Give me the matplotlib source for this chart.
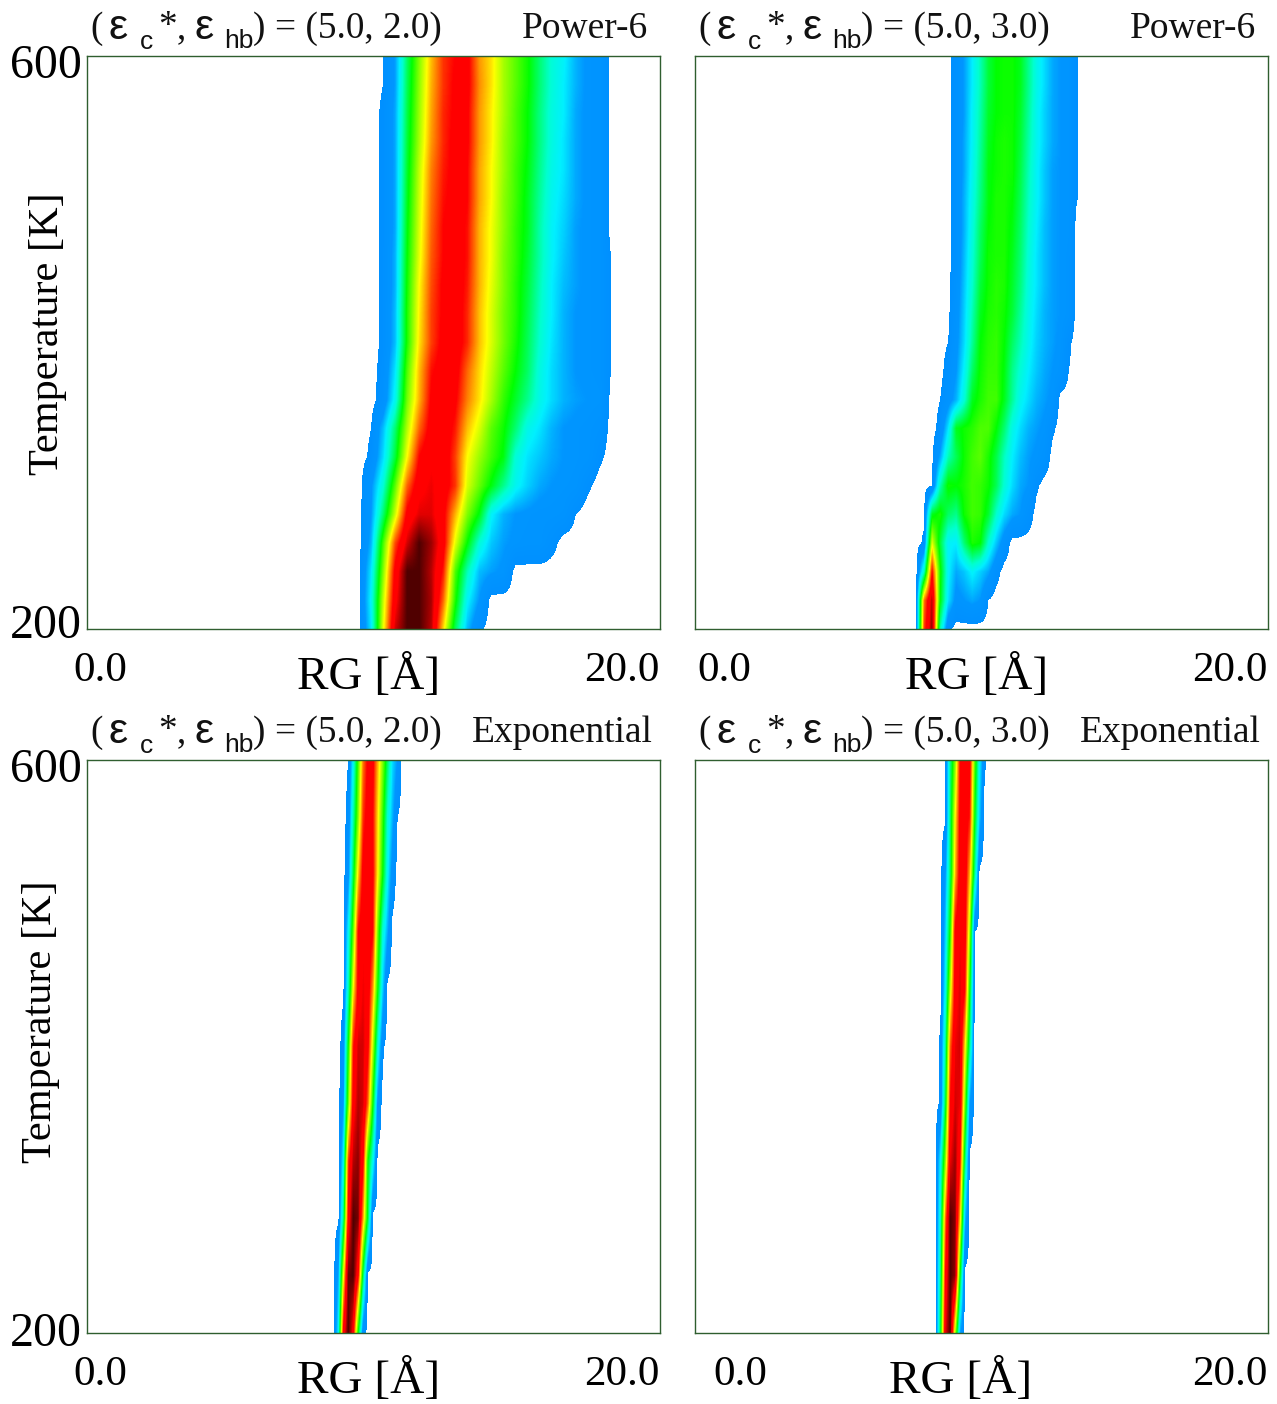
import numpy as np
import matplotlib
matplotlib.use("Agg")
import matplotlib.pyplot as plt
from matplotlib.colors import LinearSegmentedColormap, Normalize
from matplotlib.transforms import ScaledTranslation

W, H = 1277, 1404
SERIF = "Liberation Serif"
SANS = "Liberation Sans"

temps_fine = list(range(600, 199, -20))
temps_coarse = list(range(600, 199, -40))
rg_p6_a = [9.5 + 0.42 * i for i in range(22)]
rg_p6_b = [7.7 + 0.28 * i for i in range(22)]
rg_exp_a = [8.6 + 0.17 * i for i in range(15)]
rg_exp_b = [8.4 + 0.17 * i for i in range(12)]

power6_e2 = [
 [0,0,.02,.11,.33,.5,.65,.76,.8,.82,.68,.62,.53,.47,.41,.32,.24,.2,.13,.09,.08,0],
 [0,0,.02,.11,.34,.51,.66,.76,.81,.82,.69,.62,.53,.47,.41,.32,.24,.19,.13,.09,.08,0],
 [0,0,.03,.12,.35,.52,.67,.77,.81,.81,.68,.61,.53,.46,.4,.31,.23,.19,.12,.09,.08,0],
 [0,0,.03,.12,.36,.53,.68,.77,.82,.81,.68,.61,.52,.46,.4,.31,.23,.18,.12,.09,.08,0],
 [0,0,.03,.12,.37,.55,.7,.78,.82,.8,.67,.6,.52,.45,.39,.3,.22,.18,.12,.09,.08,0],
 [0,0,.03,.12,.38,.56,.71,.79,.82,.8,.67,.6,.51,.45,.38,.29,.21,.17,.12,.09,.08,0],
 [0,0,.03,.12,.39,.57,.72,.8,.83,.79,.66,.59,.51,.44,.38,.28,.2,.16,.11,.09,.08,0],
 [0,0,.03,.13,.4,.58,.73,.8,.83,.79,.66,.59,.5,.44,.37,.28,.2,.15,.11,.09,.08,.015],
 [0,0,.03,.13,.41,.6,.74,.81,.84,.78,.66,.58,.5,.43,.36,.27,.19,.14,.11,.09,.08,.015],
 [0,0,.03,.14,.42,.61,.75,.81,.84,.77,.65,.57,.49,.43,.35,.26,.19,.13,.1,.09,.08,.015],
 [0,0,.03,.14,.42,.62,.75,.82,.84,.77,.65,.57,.49,.42,.34,.25,.18,.13,.1,.09,.08,.015],
 [0,0,.04,.18,.46,.65,.79,.83,.83,.72,.63,.55,.47,.4,.33,.23,.17,.13,.1,.09,.08,.015],
 [0,0,.05,.21,.49,.66,.81,.84,.81,.7,.62,.53,.44,.37,.3,.22,.17,.13,.11,.1,.09,0],
 [0,.02,.14,.32,.54,.72,.83,.85,.78,.65,.57,.47,.41,.32,.22,.18,.13,.1,.09,.08,.06,0],
 [0,.03,.17,.36,.6,.8,.86,.85,.75,.6,.52,.45,.39,.24,.18,.15,.12,.1,.09,.08,.03,0],
 [0,.09,.24,.47,.72,.85,.88,.84,.76,.57,.48,.39,.3,.21,.16,.12,.1,.09,.08,.03,0,0],
 [0,.1,.32,.56,.82,.89,.89,.82,.66,.5,.39,.2,.13,.1,.09,.08,.08,.07,.02,0,0,0],
 [0,.13,.45,.74,.9,1,.94,.83,.58,.4,.24,.15,.11,.09,.08,.08,.04,0,0,0,0,0],
 [.01,.18,.5,.82,1,1,.92,.78,.46,.27,.14,.11,.09,0,0,0,0,0,0,0,0,0],
 [.01,.2,.55,.85,1,1,.93,.72,.42,.2,.1,0,0,0,0,0,0,0,0,0,0,0],
 [0,.18,.58,.9,1,1,.92,.63,.34,.14,.03,0,0,0,0,0,0,0,0,0,0,0],
]

power6_e3 = [
 [0,0,0,0,0,.05,.11,.19,.27,.36,.4,.41,.41,.38,.3,.22,.17,.12,.1,.09,.022,0],
 [0,0,0,0,0,.05,.11,.19,.27,.36,.4,.41,.41,.38,.3,.22,.17,.12,.1,.09,.022,0],
 [0,0,0,0,0,.05,.11,.2,.28,.37,.4,.41,.41,.37,.29,.21,.16,.12,.1,.09,.022,0],
 [0,0,0,0,0,.05,.12,.2,.29,.38,.41,.42,.41,.36,.28,.21,.16,.12,.1,.09,.022,0],
 [0,0,0,0,0,.05,.12,.21,.3,.39,.41,.42,.41,.35,.27,.2,.15,.11,.1,.09,.022,0],
 [0,0,0,0,0,.05,.13,.22,.31,.39,.42,.42,.4,.34,.26,.2,.15,.11,.1,.09,.022,0],
 [0,0,0,0,0,.05,.13,.23,.33,.4,.42,.42,.39,.33,.25,.19,.14,.11,.1,.09,0,0],
 [0,0,0,0,0,.05,.14,.24,.34,.41,.42,.42,.38,.32,.24,.18,.14,.11,.1,.08,0,0],
 [0,0,0,0,.01,.06,.15,.25,.36,.41,.43,.42,.37,.31,.23,.18,.14,.11,.1,.08,0,0],
 [0,0,0,0,.01,.07,.16,.27,.38,.42,.43,.41,.36,.29,.22,.17,.13,.11,.1,.08,0,0],
 [0,0,0,0,.02,.08,.17,.29,.4,.43,.44,.4,.33,.27,.21,.16,.13,.11,.09,.03,0,0],
 [0,0,0,0,.05,.1,.2,.33,.41,.44,.44,.39,.3,.24,.19,.15,.12,.1,.08,.02,0,0],
 [0,0,0,.02,.07,.13,.24,.38,.42,.45,.45,.38,.29,.21,.17,.13,.11,.09,0,0,0,0],
 [0,0,0,.04,.18,.38,.41,.43,.46,.46,.4,.32,.22,.17,.13,.11,.09,.03,0,0,0,0],
 [0,0,.01,.12,.27,.34,.41,.45,.47,.42,.35,.26,.19,.14,.11,.09,.06,0,0,0,0,0],
 [0,0,.02,.27,.41,.4,.42,.45,.44,.41,.34,.24,.17,.12,.1,.03,0,0,0,0,0,0],
 [0,.01,.38,.42,.33,.3,.41,.45,.44,.37,.25,.17,.12,.1,.05,0,0,0,0,0,0,0],
 [0,.03,.58,.36,.2,.19,.32,.42,.4,.25,.15,.06,0,0,0,0,0,0,0,0,0,0],
 [0,.25,.8,.42,.2,.12,.15,.2,.16,.12,.04,0,0,0,0,0,0,0,0,0,0,0],
 [.01,.7,.92,.4,.18,.08,.1,.12,.1,.02,0,0,0,0,0,0,0,0,0,0,0,0],
 [.01,.75,.95,.28,.04,0,0,0,0,0,0,0,0,0,0,0,0,0,0,0,0,0],
]

exp_e2 = [
 [0,0,0,.02,.2,.45,.7,.82,.82,.66,.5,.33,.17,.1,0],
 [0,0,0,.04,.27,.5,.76,.84,.8,.62,.44,.24,.13,.02,0],
 [0,0,0,.08,.35,.63,.83,.85,.81,.6,.4,.2,.06,0,0],
 [0,0,.01,.2,.47,.8,.86,.86,.8,.48,.24,.12,0,0,0],
 [0,0,.01,.26,.6,.82,.88,.85,.68,.4,.16,0,0,0,0],
 [0,0,.05,.4,.78,.9,.9,.82,.55,.24,.03,0,0,0,0],
 [0,0,.1,.48,.84,.92,.9,.72,.4,.08,0,0,0,0,0],
 [0,.01,.2,.75,.92,.95,.82,.4,.22,0,0,0,0,0,0],
 [0,.01,.3,.82,1,.97,.68,.36,0,0,0,0,0,0,0],
 [0,.12,.58,.98,1,.82,.35,0,0,0,0,0,0,0,0],
 [0,.2,.82,1,.85,.4,.05,0,0,0,0,0,0,0,0],
]

exp_e3 = [
 [0,0,.01,.3,.5,.8,.84,.82,.47,.2,.03,0],
 [0,0,.01,.32,.6,.82,.85,.78,.4,.15,0,0],
 [0,0,.1,.33,.65,.84,.86,.65,.3,0,0,0],
 [0,0,.15,.42,.82,.87,.84,.52,.02,0,0,0],
 [0,0,.2,.55,.84,.89,.8,.4,0,0,0,0],
 [0,.03,.28,.72,.88,.9,.62,.3,0,0,0,0],
 [0,.03,.35,.8,.9,.88,.5,.1,0,0,0,0],
 [.005,.2,.5,.88,.94,.8,.33,0,0,0,0,0],
 [.005,.25,.7,1,.96,.65,.15,0,0,0,0,0],
 [.005,.3,.8,1,.95,.4,0,0,0,0,0,0],
 [.005,.35,.88,1,.55,.12,0,0,0,0,0,0],
]

x_range = [0, 20]
y_range = [200, 600]
x_tick_labels = ["0.0", "20.0"]
y_tick_labels = ["200", "600"]
model_names = ["Power-6", "Power-6", "Exponential", "Exponential"]
eps_pair = ["= (5.0, 2.0)", "= (5.0, 3.0)", "= (5.0, 2.0)", "= (5.0, 3.0)"]

anchors = [(0.02, "#0090ff"), (0.1, "#0096ff"), (0.19, "#00f0ff"), (0.25, "#00ffd0"), (0.32, "#00ff70"),
           (0.4, "#00ff00"), (0.5, "#80ff00"), (0.6, "#ffff00"), (0.7, "#ff8000"),
           (0.8, "#ff0000"), (0.87, "#ff0000"), (0.93, "#aa0000"), (1.0, "#500000")]
cmap = LinearSegmentedColormap.from_list("jetlike", [((v - .02) / .98, c) for v, c in anchors], N=512)
cmap.set_under("white")
norm = Normalize(vmin=0.02, vmax=1.0)

fig = plt.figure(figsize=(W / 100, H / 100), dpi=100, facecolor="white")

panels = [
    (87, 56, power6_e2, rg_p6_a, temps_fine, 369, 13),
    (695, 56, power6_e3, rg_p6_b, temps_fine, 977, 29),
    (87, 760, exp_e2, rg_exp_a, temps_coarse, 369, 13),
    (695, 760, exp_e3, rg_exp_b, temps_coarse, 961, 45),
]
SIDE = 573
SPINE = "#2f5e2f"


def offset(dx, dy):
    return ScaledTranslation(dx / 100, -dy / 100, fig.dpi_scale_trans)


for i, (px, py, table, rg, temps, label_x, zero_dx) in enumerate(panels):
    ax = fig.add_axes([px / W, 1 - (py + SIDE) / H, SIDE / W, SIDE / H])
    z = np.array(table, dtype=float)
    dx = rg[1] - rg[0]
    dt = abs(temps[1] - temps[0])
    ax.imshow(z, cmap=cmap, norm=norm, origin="upper", aspect="auto",
              interpolation="bilinear", interpolation_stage="data",
              extent=[rg[0] - dx / 2, rg[-1] + dx / 2, temps[-1] - dt / 2, temps[0] + dt / 2])
    ax.set_xlim(*x_range)
    ax.set_ylim(*y_range)
    for s in ax.spines.values():
        s.set_color(SPINE)
        s.set_linewidth(1.0)

    ax.set_xticks(x_range)
    ax.set_xticklabels(x_tick_labels, fontfamily=SERIF, fontsize=31)
    ax.tick_params(axis="both", length=0, pad=0)
    lab0, lab1 = ax.get_xticklabels()
    lab0.set_horizontalalignment("center")
    lab1.set_horizontalalignment("right")
    for lab, ddx in ((lab0, zero_dx), (lab1, 0)):
        lab.set_verticalalignment("center")
        lab.set_transform(lab.get_transform() + offset(ddx, 42))

    ax.set_xlabel("RG [Å]", fontfamily=SERIF, fontsize=34, va="center")
    ax.xaxis.set_label_coords((label_x - px) / SIDE, -48 / SIDE)

    if i in (0, 2):
        ax.set_yticks(y_range)
        ax.set_yticklabels(y_tick_labels, fontfamily=SERIF, fontsize=34.5)
        lab200, lab600 = ax.get_yticklabels()
        d200 = -8 if i == 0 else -4
        lab200.set_horizontalalignment("right")
        lab600.set_horizontalalignment("right")
        lab200.set_transform(lab200.get_transform() + offset(-5, d200))
        lab600.set_transform(lab600.get_transform() + offset(-5, 5))
        ax.set_ylabel("Temperature [K]", fontfamily=SERIF, fontsize=30.5, va="center")
        ylab_x = 48 if i == 0 else 41
        ax.yaxis.set_label_coords((ylab_x - px) / SIDE, (py + SIDE - (334 if i == 0 else 1022)) / SIDE)
    else:
        ax.set_yticks([])

    ox = 0 if i in (0, 2) else 608
    oy = 0 if i in (0, 1) else 704
    pieces = [
        ("(", 90, 29, SERIF, 26.8),
        ("ε", 109, 28, SANS, 31),
        ("c", 140, 42, SANS, 19),
        ("*", 158, 27, SERIF, 26.8),
        (",", 177, 29, SERIF, 26.8),
        ("ε", 194, 28, SANS, 31),
        ("hb", 224, 41, SANS, 19),
        (")", 253, 29, SERIF, 26.8),
        (eps_pair[i], 275, 29, SERIF, 26.8),
    ]
    for s, x0, y0, fam, size in pieces:
        fig.text((x0 + ox) / W, 1 - (y0 + oy) / H, s, family=fam, fontsize=size, ha="left", va="center", color="#111111")
    right = {0: 648, 1: 648, 2: 653, 3: 653}[i] + ox
    fig.text(right / W, 1 - (29 + oy) / H, model_names[i], family=SERIF, fontsize=27, ha="right", va="center", color="#111111")

fig.savefig("out.png", dpi=100, facecolor="white")
